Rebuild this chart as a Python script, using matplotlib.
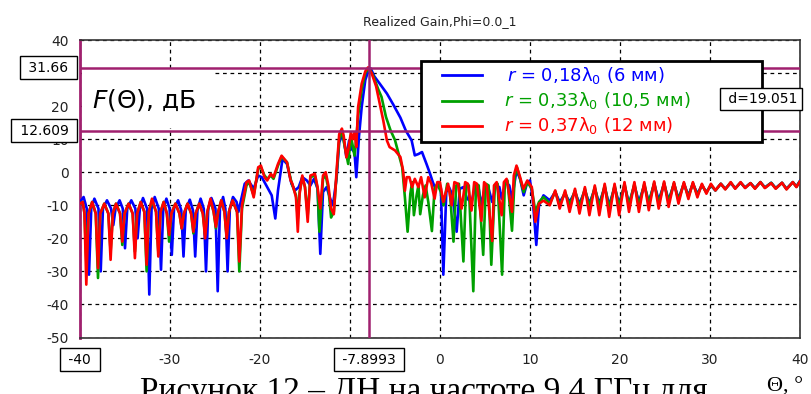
import numpy as np
import matplotlib
matplotlib.use('Agg')
import matplotlib.pyplot as plt
from matplotlib.patches import Rectangle
from matplotlib.lines import Line2D

plt.rcParams['axes.unicode_minus'] = False
plt.rcParams['font.family'] = 'DejaVu Sans'

W, H = 811, 394

# ---- data (theta in deg, gain in dB) ----
# r = 0.18 lambda (blue)
blue_th = [-40.0, -39.6, -39.25, -39.0, -38.75, -38.4, -37.95, -37.7, -37.45, -37.0, -36.55,
           -36.3, -36.05, -35.6, -35.25, -35.0, -34.75, -34.3, -33.85, -33.6, -33.35, -33.0,
           -32.55, -32.3, -32.05, -31.7, -31.25, -31.0, -30.75, -30.4, -30.05, -29.8, -29.55,
           -29.1, -28.75, -28.5, -28.25, -27.8, -27.45, -27.2, -26.95, -26.6, -26.25, -26.0,
           -25.75, -25.4, -24.95, -24.7, -24.45, -24.1, -23.85, -23.6, -23.35, -23.0, -22.6,
           -22.4, -21.7, -21.3, -20.7, -20.2, -19.8, -19.3, -18.7,
           -18.3, -18.0, -17.5, -17.0, -16.5, -16.1, -15.7, -15.3, -14.8, -14.4, -14.0, -13.6,
           -13.3, -13.0, -12.6, -12.2, -11.9, -11.5, -11.2, -10.8, -10.4, -10.1, -9.8, -9.5,
           -9.3, -9.0, -8.7, -8.3, -7.9, -7.7, -7.3, -6.7, -5.9, -5.2, -4.4, -3.8, -3.15, -2.8,
           -2.4, -2.0, -1.5, -1.1, -0.8, -0.5, -0.2, 0.1, 0.37, 0.7, 1.0, 1.4, 1.85, 2.2, 2.6,
           3.0, 3.5, 3.9, 4.3, 4.6, 5.0, 5.4, 5.8, 6.2, 6.6, 6.85, 7.3, 7.7, 8.0, 8.5, 8.9, 9.3,
           9.7, 10.0, 10.3, 10.7]
blue_db = [-9, -7.5, -11, -31, -11, -8, -11, -30, -11, -8.5, -11,
           -16, -11, -8.5, -11, -23, -11, -8.5, -11, -20, -11, -7.8,
           -11, -37, -11, -7.5, -11, -29.5, -11, -8, -11, -25, -11,
           -8.5, -11.5, -25.5, -11.5, -8.3, -11.5, -25.5, -11.5, -8, -11, -30,
           -11, -7.8, -11, -36, -11, -7.5, -11, -30, -11, -7.5, -9,
           -12, -3.5, -2.5, -5, -1, -1.5, -4, -7,
           -14, -5.5, 4, 2.5, -3.5, -5.5, -4.5, -1.5, -2.5, -4, -2, -5,
           -24.7, -6, -4.5, -8, -10, -2, 9, 11.6, 4.6, 9.6, 7, 6,
           -1.5, 10.9, 19.8, 27.9, 31.2, 31.4, 29, 26.8, 23.8, 20.5, 16.5, 12.6, 9.6, 5.1,
           5.5, 6.1, 2.5, -0.5, -3, -5, -3, -5, -31, -6, -4.5, -7, -18, -5, -4.5,
           -8, -9, -4.5, -5, -10, -4.5, -5, -9, -4, -4.5, -8, -3, -4, -8, 0.5, -2, -7,
           -3, -2.5, -8, -22]

# r = 0.37 lambda (red)
red_th = [-40.0, -39.7, -39.5, -39.3, -39.05, -38.65, -38.25, -38.0, -37.75, -37.3, -36.85,
          -36.6, -36.35, -36.0, -35.55, -35.3, -35.05, -34.6, -34.15, -33.9, -33.65, -33.25,
          -32.85, -32.6, -32.35, -32.0, -31.55, -31.3, -31.05, -30.7, -30.35, -30.1, -29.85,
          -29.4, -28.95, -28.7, -28.45, -28.05, -27.65, -27.4, -27.15, -26.75, -26.35, -26.1,
          -25.85, -25.5, -25.15, -24.9, -24.65, -24.3, -23.95, -23.7, -23.45, -23.05, -22.55,
          -22.3, -22.0, -21.5, -21.2, -20.7, -20.2, -19.9, -19.5,
          -19.2, -18.8, -18.5, -18.0, -17.6, -17.0, -16.6, -16.4, -16.0, -15.8, -15.6, -15.3,
          -15.0, -14.7, -14.4, -13.9, -13.6, -13.3, -13.0, -12.7, -12.4, -12.1, -11.8, -11.5,
          -11.2, -10.9, -10.7, -10.4, -10.2, -9.9, -9.7, -9.5, -9.3, -9.1, -8.7, -8.3, -8.0,
          -7.6, -7.1, -6.85, -6.3, -5.9, -5.6, -5.0, -4.4, -4.1, -3.9, -3.7, -3.4, -3.1, -2.8,
          -2.4, -2.1, -1.7, -1.3, -0.96, -0.6, -0.3, 0.0, 0.37, 0.9, 1.3, 1.6, 2.0, 2.4, 2.8,
          3.1, 3.5, 3.8, 4.1, 4.6, 4.9, 5.2, 5.8, 6.0, 6.3, 6.85, 7.1, 7.4, 8.0, 8.2, 8.5, 8.9,
          9.26, 9.7, 10.2, 10.6]
red_db = [-9.5, -9, -12.5, -34, -12.5, -9, -12.5, -29, -12.5, -9.5, -12.5,
          -26.5, -12.5, -9.5, -12.5, -21, -12.5, -9.5, -12.5, -26, -12.5, -9,
          -12, -28, -12, -8, -12, -25.5, -12, -9, -12.5, -19, -12.5,
          -9.5, -12.5, -17, -12.5, -9.5, -12.5, -18, -12.5, -9.5, -12.5, -20,
          -12, -8, -12, -16.5, -12, -8.5, -12, -20, -12, -8.5, -12,
          -27, -10, -3, -2.5, -7.6, 1.5, 2, -1.5,
          -2.5, -0.5, -1.5, 2.5, 5, 3, -2.5, -3.5, -7.6, -18, -6.6, -1,
          -4.6, -15, -1, -0.5, -4.6, -11, -1, 0, -4, -11, -12.7, 0,
          11.5, 13.2, 11, 4.5, 6.7, 12, 10, 12, 7.6, 19.7, 26.8, 30.5, 31.7,
          30, 26, 22.7, 15.6, 9.6, 7.6, 6.6, 4.6, 0.5, -5.6, -1.5, -1.5, -4.5, -2,
          -4.5, -1.5, -7.6, -1.5, -3.5, -8, -3, -3, -9, -3.5, -10, -3, -3.5, -11, -3,
          -3.5, -11.6, -3, -3.5, -14.7, -3, -4, -20.8, -4, -3, -13, -3, -2, -12, -1, 2, -1.5,
          -5, -2.5, -4.5, -15]

# r = 0.33 lambda (green)
green_th = [-40.0, -39.7, -39.5, -39.3, -39.05, -38.65, -38.25, -38.0, -37.75, -37.3, -36.85,
            -36.6, -36.35, -36.0, -35.55, -35.3, -35.05, -34.6, -34.15, -33.9, -33.65, -33.25,
            -32.85, -32.6, -32.35, -32.0, -31.55, -31.3, -31.05, -30.7, -30.35, -30.1, -29.85,
            -29.4, -28.95, -28.7, -28.45, -28.05, -27.65, -27.4, -27.15, -26.75, -26.35, -26.1,
            -25.85, -25.5, -25.15, -24.9, -24.65, -24.3, -23.95, -23.7, -23.45, -23.05, -22.55,
            -22.3, -22.0, -21.5, -21.2, -20.7, -20.2, -19.9, -19.5,
            -19.2, -18.8, -18.5, -18.0, -17.6, -17.0, -16.6, -16.4, -16.0, -15.8, -15.6, -15.3,
            -15.0, -14.7, -14.4, -13.9, -13.6, -13.4, -13.0, -12.7, -12.4, -12.1, -11.8, -11.5,
            -11.2, -10.9, -10.6, -10.2, -9.9, -9.7, -9.5, -9.3, -9.1, -8.7, -8.3, -7.9, -7.4,
            -6.85, -6.5, -6.0, -5.5, -5.0, -4.5, -4.2, -3.9, -3.6, -3.3, -3.1, -2.9, -2.6, -2.4,
            -2.2, -1.9, -1.6, -1.3, -0.9, -0.6, -0.3, 0.1, 0.4, 0.8, 1.1, 1.5, 1.8, 2.1, 2.6,
            2.9, 3.2, 3.7, 4.0, 4.3, 4.8, 5.1, 5.4, 5.7, 6.1, 6.4, 6.9, 7.2, 7.5, 8.0, 8.3, 8.55,
            8.9, 9.3, 9.7, 10.2, 10.6]
green_db = [-9.5, -9, -12.5, -27, -12.5, -9, -12.5, -32, -12.5, -9.5, -12.5,
            -24, -12.5, -9.5, -12.5, -22, -12.5, -9.5, -12.5, -24, -12.5, -9,
            -12, -30, -12, -8.5, -12, -24, -12, -9, -12.5, -21, -12.5,
            -9.5, -12.5, -17, -12.5, -9.5, -12.5, -18.5, -12.5, -9.5, -12.5, -19,
            -12, -8.5, -12, -17, -12, -8.5, -12, -19.5, -12, -8.5, -12,
            -30, -11, -4, -3, -7, 1, 1.5, -1,
            -2, -1, -2, 2, 4.7, 3, -2, -4, -7, -14, -6, -1.5,
            -4.5, -13, -1.5, -1, -5, -18, -2, -1, -5, -13.7, -12, -1,
            10, 12.5, 8, 2.5, 11, 8, 5, 10, 17, 25, 30, 31.6, 29,
            25, 22.8, 16.7, 12.7, 9.7, 4.6, 1.5, -7.6, -18, -6.6, -3, -13, -7, -4,
            -12.7, -7, -4, -9, -17.8, -5, -3.5, -6, -10, -3.5, -6, -21, -4, -3.5, -27,
            -3.5, -4, -36, -3.5, -4, -25, -3.5, -4, -28, -4, -3.5, -31, -3.5, -2.5, -17.7, -1.5, 1.5,
            -2, -6, -3, -5, -12]

# far side lobes, 11..40 deg (shared angles)
tail_th = [11.0, 11.5, 12.2, 12.8, 13.3, 13.9, 14.4, 15.0, 15.5, 16.1, 16.6, 17.2, 17.7, 18.3,
           18.8, 19.4, 19.9, 20.5, 21.0, 21.6, 22.1, 22.7, 23.2, 23.8, 24.3, 24.9, 25.4, 26.0,
           26.5, 27.1, 27.6, 28.1, 28.6, 29.1, 29.6, 30.1, 30.6, 31.2, 31.7, 32.3, 32.8, 33.4,
           33.9, 34.5, 35.0, 35.6, 36.1, 36.8, 37.3, 38.0, 38.5, 39.2, 39.6, 40.0]
tail_red = [-9.5, -8.6, -10, -5.5, -11, -5.5, -12, -5, -12.5, -4.5, -13, -4, -13, -3.5,
            -13.5, -3.5, -13, -3, -12, -3, -12, -3, -11.5, -2.8, -11, -2.8, -10.5, -3,
            -9.5, -3, -8.1, -3, -7.6, -3.5, -6.5, -3.5, -5.5, -3.5, -5.2, -3, -5, -3,
            -4.8, -3.3, -5, -3, -4.8, -3.3, -5, -3.2, -5.2, -3, -4.5, -2.8]
tail_blue = [-10, -7, -8.5, -6, -9, -6.5, -9, -6, -9.5, -5.5, -9.5, -5, -9.5, -4.5,
             -10, -4.5, -9.5, -4, -9.5, -4, -9, -4, -9, -3.5, -8.5, -3.5, -8.5, -3.5,
             -8, -3.5, -7, -3.5, -6.5, -4, -6, -4, -5.5, -3.5, -5, -3.3, -4.8, -3.2,
             -4.6, -3.3, -4.8, -3, -4.6, -3.2, -4.8, -3.2, -5, -3, -4.3, -2.6]
tail_green = [-9, -7.5, -9.5, -5.8, -10, -6, -10, -5.5, -10.5, -5, -10.5, -4.5, -10.5, -4,
              -11, -4, -10.5, -3.5, -10, -3.5, -10, -3.5, -9.5, -3.2, -9.5, -3.2, -9, -3.3,
              -8.5, -3.3, -7.5, -3.3, -7, -3.8, -6.2, -3.8, -5.5, -3.5, -5.1, -3.1, -4.9, -3.1,
              -4.7, -3.3, -4.9, -3, -4.7, -3.2, -4.9, -3.2, -5.1, -3, -4.4, -2.7]

theta_max = -7.8993
g_max = 31.66
g_lvl = 12.609

labels = [r'$r$ = 0,18λ$_0$ (6 мм)', r'$r$ = 0,33λ$_0$ (10,5 мм)', r'$r$ = 0,37λ$_0$ (12 мм)']
colors = ['#0000ff', '#00a000', '#ff0000']
mag = '#a0206e'


def fx(px):
    return px / W


def fy(py):
    return 1 - py / H


fig = plt.figure(figsize=(W / 100, H / 100), dpi=100)
ax = fig.add_axes([fx(80), fy(337.5), fx(800) - fx(80), fy(40) - fy(337.5)])

curves = [(blue_th + tail_th, blue_db + tail_blue),
          (green_th + tail_th, green_db + tail_green),
          (red_th + tail_th, red_db + tail_red)]
for (th, db), c in zip(curves, colors):
    ax.plot(th, db, color=c, lw=1.9, solid_joinstyle='round', zorder=3)

ax.set_xlim(-40, 40)
ax.set_ylim(-50, 40)
ax.set_xticks(np.arange(-40, 41, 10))
ax.set_yticks(np.arange(-50, 41, 10))
ax.tick_params(length=0, labelsize=10, colors='#222222')
ax.tick_params(axis='x', pad=11)
ax.tick_params(axis='y', pad=8)
ax.grid(True, color='black', linestyle=(0, (3, 3)), lw=0.9)
ax.set_axisbelow(True)
for s in ['top', 'right', 'bottom']:
    ax.spines[s].set_color('#333333')
    ax.spines[s].set_linewidth(1.2)
ax.spines['left'].set_color(mag)
ax.spines['left'].set_linewidth(2)

# markers
ax.axhline(g_max, color=mag, lw=1.8, zorder=4)
ax.axhline(g_lvl, color=mag, lw=1.8, zorder=4)
ax.axvline(theta_max, color=mag, lw=1.8, zorder=4)

# white patch behind the F(Θ) label
ax.add_patch(Rectangle((0.003, 0.704), 0.183, 0.19, transform=ax.transAxes,
                       facecolor='white', edgecolor='none', zorder=1.5))
ax.text(0.017, 0.798, r'$F(\Theta)$, дБ', transform=ax.transAxes, fontsize=18,
        va='center', ha='left', zorder=6)

ax.set_title('Realized Gain,Phi=0.0_1', fontsize=9, pad=11, color='#222222')

box = dict(boxstyle='square,pad=0.3', facecolor='white', edgecolor='black', lw=1)
yt = ax.get_yaxis_transform()
xt = ax.get_xaxis_transform()
ax.text(-0.01, g_max, f' {g_max:g} ', transform=yt, ha='right', va='center',
        fontsize=10, bbox=box, zorder=10, clip_on=False)
ax.text(-0.01, g_lvl, f' {g_lvl:g} ', transform=yt, ha='right', va='center',
        fontsize=10, bbox=box, zorder=10, clip_on=False)
ax.text(-40, -0.074, ' -40 ', transform=xt, ha='center', va='center',
        fontsize=10, bbox=box, zorder=10, clip_on=False)
ax.text(theta_max, -0.074, f' {theta_max:g} ', transform=xt, ha='center', va='center',
        fontsize=10, bbox=box, zorder=10, clip_on=False)
ax.text(0.997, (g_max + g_lvl) / 2, f' d={g_max - g_lvl:.3f}', transform=yt,
        ha='right', va='center', fontsize=10, bbox=box, zorder=12, clip_on=False)

# legend drawn by hand (inside the axes so the d= box stays on top)
ax.add_artist(Rectangle((fx(421), fy(142)), fx(762) - fx(421), fy(61) - fy(142),
                        transform=fig.transFigure, facecolor='white',
                        edgecolor='black', lw=2, zorder=8, clip_on=False))
for i, (lab, c) in enumerate(zip(labels, colors)):
    yy = fy(75 + 25.5 * i)
    ax.add_artist(Line2D([fx(442), fx(482)], [yy, yy], color=c, lw=2,
                         transform=fig.transFigure, zorder=9, clip_on=False))
    ax.text(fx(504 + (3 if i == 0 else 0)), yy, lab, color=c, fontsize=13,
            va='center', ha='left', transform=fig.transFigure, zorder=9)

# caption fragments under the chart
fig.text(fx(140), fy(400), 'Рисунок 12 – ДН на частоте 9,4 ГГц для',
         family='Liberation Serif', fontsize=24, va='baseline', ha='left')
fig.text(fx(767), fy(392), 'Θ, °', family='Liberation Serif', fontsize=16,
         va='baseline', ha='left')

fig.savefig('out.png', dpi=100)
